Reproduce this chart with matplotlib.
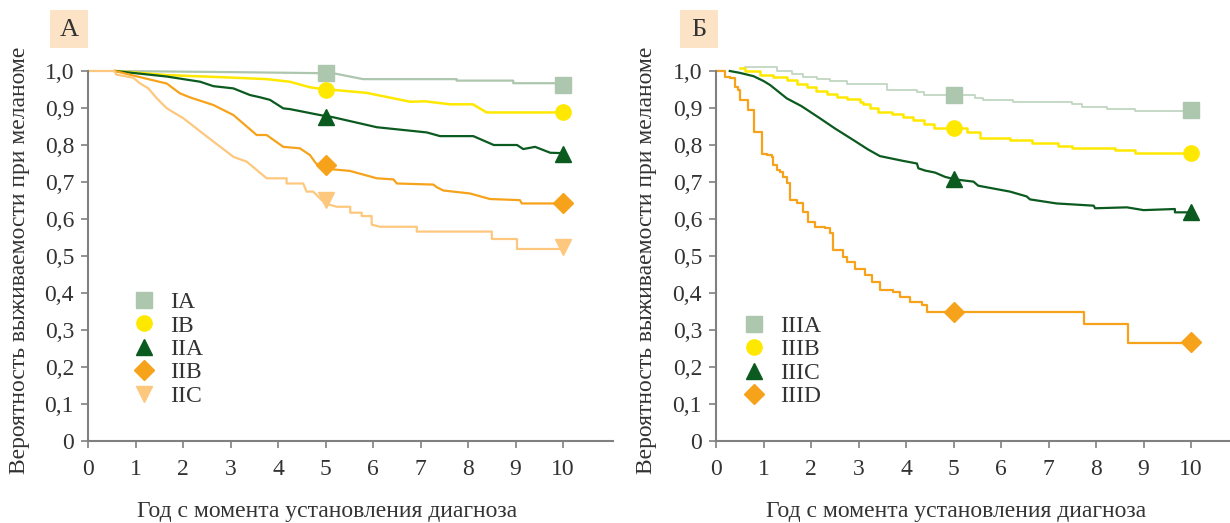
# Кривые выживаемости при меланоме по стадиям (панели А и Б)

import matplotlib.pyplot as plt
from matplotlib.patches import Rectangle

plt.rcParams['font.family'] = ['Liberation Serif', 'DejaVu Serif']

# Панель А: стадии I-II (точки ломаной: год, вероятность)
ia_t = [0.6, 3.0, 5.0, 5.2, 5.79, 7.76, 7.76, 8.95, 8.95, 10]
ia_s = [1.0, 0.997, 0.994, 0.993, 0.978, 0.978, 0.974, 0.974, 0.967, 0.967]
ib_t = [0.57, 1.66, 3.06, 3.76, 4.25, 4.67, 5.0, 5.16, 5.86, 6.78, 7.1, 7.62, 8.1, 8.39, 10]
ib_s = [1.0, 0.989, 0.982, 0.978, 0.971, 0.956, 0.95, 0.949, 0.941, 0.917, 0.918, 0.91, 0.91, 0.888, 0.888]
iia_t = [0.57, 1.66, 2.36, 2.64, 3.06, 3.41, 3.62, 3.83, 4.11, 4.25, 4.88, 5.16, 6.08, 7.13,
         7.41, 8.11, 8.54, 9.03, 9.16, 9.41, 9.73, 10]
iia_s = [1.0, 0.985, 0.971, 0.959, 0.953, 0.935, 0.929, 0.922, 0.899, 0.897, 0.881, 0.875, 0.848, 0.834,
         0.824, 0.824, 0.8, 0.8, 0.789, 0.795, 0.779, 0.778]
iib_t = [0.57, 0.88, 1.66, 1.93, 2.14, 2.64, 3.06, 3.55, 3.76, 4.11, 4.46, 4.67, 4.8, 5.16, 5.51, 6.08,
         6.43, 6.5, 7.27, 7.34, 7.48, 8.04, 8.46, 9.09, 9.13, 10]
iib_s = [1.0, 0.99, 0.966, 0.94, 0.929, 0.908, 0.881, 0.827, 0.827, 0.795, 0.791, 0.773, 0.75, 0.734, 0.73, 0.71,
         0.707, 0.696, 0.693, 0.686, 0.677, 0.669, 0.654, 0.651, 0.642, 0.642]
iic_t = [0, 0.55, 0.6, 0.95, 1.1, 1.27, 1.45, 1.66, 2.01, 2.5, 3.06, 3.34, 3.76, 4.18, 4.18, 4.53, 4.6,
         4.74, 4.99, 5.24, 5.52, 5.52, 5.76, 5.76, 5.97, 5.97, 6.15, 6.92, 6.92, 8.5, 8.5, 9.03, 9.03, 10]
iic_s = [1.0, 1.0, 0.99, 0.982, 0.966, 0.953, 0.926, 0.899, 0.872, 0.823, 0.768, 0.755, 0.71, 0.71, 0.696, 0.696,
         0.674, 0.674, 0.642, 0.633, 0.633, 0.617, 0.617, 0.608, 0.608, 0.585, 0.579, 0.579, 0.566, 0.566,
         0.546, 0.546, 0.519, 0.519]

# Панель Б: стадия III
iiia_t = [0.61, 1.28, 1.59, 1.84, 2.12, 2.4, 2.75, 3.59, 4.23, 4.37, 5.45, 5.63, 6.26, 7.49, 7.7, 8.23, 8.82, 10]
iiia_s = [1.012, 1.0, 0.991, 0.985, 0.978, 0.974, 0.966, 0.950, 0.944, 0.935, 0.928, 0.922, 0.917, 0.910,
          0.904, 0.897, 0.892, 0.892]
iiib_t = [0.5, 0.61, 0.93, 1.21, 1.49, 1.7, 1.91, 2.1, 2.33, 2.55, 2.75, 3.03, 3.1, 3.25, 3.42, 3.7, 3.94,
          4.15, 4.37, 4.58, 5.28, 5.56, 6.19, 6.65, 7.2, 7.49, 8.4, 8.82, 10]
iiib_s = [1.007, 1.001, 0.989, 0.983, 0.976, 0.966, 0.956, 0.947, 0.938, 0.93, 0.924, 0.917, 0.91, 0.9, 0.888,
          0.885, 0.875, 0.868, 0.856, 0.847, 0.836, 0.82, 0.8135, 0.805, 0.797, 0.791, 0.786, 0.779, 0.779]
iiic_t = [0.29, 0.5, 0.79, 1.0, 1.14, 1.49, 1.8, 2.19, 2.5, 2.89, 3.2, 3.45, 3.94, 4.23, 4.26, 4.4, 4.61,
          4.82, 5.03, 5.42, 5.52, 6.19, 6.54, 6.61, 7.17, 7.95, 7.98, 8.65, 9.0, 9.66, 9.66, 10]
iiic_s = [1.0, 0.995, 0.986, 0.973, 0.962, 0.926, 0.905, 0.872, 0.845, 0.8135, 0.788, 0.77, 0.757, 0.75, 0.737,
          0.731, 0.7255, 0.714, 0.707, 0.701, 0.69, 0.674, 0.661, 0.653, 0.642, 0.636, 0.629, 0.6315, 0.624,
          0.627, 0.618, 0.618]
iiid_t = [0, 0.19, 0.29, 0.40, 0.47, 0.51, 0.68, 0.79, 0.96, 1.07, 1.17, 1.21, 1.28, 1.35, 1.42, 1.49, 1.56,
          1.70, 1.84, 1.94, 2.08, 2.29, 2.40, 2.47, 2.68, 2.75, 2.93, 3.14, 3.28, 3.45, 3.73, 3.87, 4.08,
          4.33, 4.44, 7.75, 8.67, 10]
iiid_s = [1.0, 0.985, 0.98, 0.958, 0.949, 0.922, 0.895, 0.836, 0.777, 0.773, 0.768, 0.746, 0.732, 0.728,
          0.714, 0.696, 0.651, 0.642, 0.62, 0.593, 0.579, 0.575, 0.561, 0.516, 0.498, 0.485, 0.466, 0.449,
          0.431, 0.408, 0.4035, 0.39, 0.3765, 0.3676, 0.349, 0.315, 0.264, 0.264]

# Маркеры на 5 и 10 годах
mark_t = [5, 10]
marks_a = {'IA': [0.995, 0.963], 'IB': [0.949, 0.888], 'IIA': [0.877, 0.776],
           'IIB': [0.747, 0.642], 'IIC': [0.652, 0.524]}
marks_b = {'IIIA': [0.935, 0.895], 'IIIB': [0.845, 0.779], 'IIIC': [0.708, 0.62], 'IIID': [0.349, 0.267]}

x_ticks = list(range(11))
y_ticks = [0, 0.1, 0.2, 0.3, 0.4, 0.5, 0.6, 0.7, 0.8, 0.9, 1.0]
y_labels = ['0', '0,1', '0,2', '0,3', '0,4', '0,5', '0,6', '0,7', '0,8', '0,9', '1,0']

GREY_GREEN = '#adc6ae'
YELLOW = '#ffe800'
DARK_GREEN = '#0b5a1f'
ORANGE = '#f7a21b'
LIGHT_ORANGE = '#fdc87e'
AXIS = '#808080'
TEXT = '#333333'

fig = plt.figure(figsize=(12.3, 5.23), dpi=100)
ax_a = fig.add_axes([88 / 1230, 82 / 523, 525 / 1230, 377.4 / 523])
ax_b = fig.add_axes([716 / 1230, 82 / 523, 514 / 1230, 377.4 / 523])


def style(ax, xmax):
    ax.set_xlim(0, xmax)
    ax.set_ylim(0, 1.02)
    for side in ['top', 'right']:
        ax.spines[side].set_visible(False)
    for side in ['left', 'bottom']:
        ax.spines[side].set_color(AXIS)
        ax.spines[side].set_linewidth(1.5)
    ax.spines['left'].set_bounds(0, 1.0)
    ax.set_xticks(x_ticks)
    ax.set_yticks(y_ticks)
    ax.set_yticklabels(y_labels)
    ax.tick_params(direction='out', length=5, width=1.2, color=AXIS, labelcolor=TEXT,
                   labelsize=17, pad=5)
    ax.tick_params(axis='x', pad=8)
    ax.set_xlabel('Год с момента установления диагноза', fontsize=17, color=TEXT)
    ax.set_ylabel('Вероятность выживаемости при меланоме', fontsize=17, color=TEXT)


style(ax_a, 11.05)
style(ax_b, 10.82)
ax_a.xaxis.set_label_coords(0.455, -0.16)
ax_b.xaxis.set_label_coords(0.467, -0.16)
ax_a.yaxis.set_label_coords(-0.11, 0.48)
ax_b.yaxis.set_label_coords(-0.115, 0.48)

# Панель А
ax_a.plot(ia_t, ia_s, color=GREY_GREEN, lw=1.6)
ax_a.plot(ib_t, ib_s, color=YELLOW, lw=1.8)
ax_a.plot(iia_t, iia_s, color=DARK_GREEN, lw=1.6)
ax_a.plot(iib_t, iib_s, color=ORANGE, lw=1.6)
ax_a.plot(iic_t, iic_s, color=LIGHT_ORANGE, lw=1.6)

ax_a.plot(mark_t, marks_a['IA'], 's', color=GREY_GREEN, ms=11, ls='none', label='IA', clip_on=False)
ax_a.plot(mark_t, marks_a['IB'], 'o', color=YELLOW, ms=11, ls='none', label='IB', clip_on=False)
ax_a.plot(mark_t, marks_a['IIA'], '^', color=DARK_GREEN, ms=11, ls='none', label='IIA', clip_on=False)
ax_a.plot(mark_t, marks_a['IIB'], 'D', color=ORANGE, ms=10, ls='none', label='IIB', clip_on=False)
ax_a.plot(mark_t, marks_a['IIC'], 'v', color=LIGHT_ORANGE, ms=11, ls='none', label='IIC', clip_on=False)

# Панель Б
ax_b.step(iiia_t, iiia_s, where='post', color='#bcd3be', lw=1.2, clip_on=False)
ax_b.step(iiib_t, iiib_s, where='post', color=YELLOW, lw=1.8, clip_on=False)
ax_b.plot(iiic_t, iiic_s, color=DARK_GREEN, lw=1.6)
ax_b.step(iiid_t, iiid_s, where='post', color=ORANGE, lw=1.6, clip_on=False)

ax_b.plot(mark_t, marks_b['IIIA'], 's', color=GREY_GREEN, ms=11, ls='none', label='IIIA', clip_on=False)
ax_b.plot(mark_t, marks_b['IIIB'], 'o', color=YELLOW, ms=11, ls='none', label='IIIB', clip_on=False)
ax_b.plot(mark_t, marks_b['IIIC'], '^', color=DARK_GREEN, ms=11, ls='none', label='IIIC', clip_on=False)
ax_b.plot(mark_t, marks_b['IIID'], 'D', color=ORANGE, ms=10, ls='none', label='IIID', clip_on=False)

for ax, anchor in [(ax_a, (0.062, 0.427)), (ax_b, (0.028, 0.364))]:
    leg = ax.legend(loc='upper left', bbox_to_anchor=anchor, frameon=False, fontsize=17,
                    handlelength=1.0, handletextpad=0.6, labelspacing=0.08, borderpad=0)
    for t in leg.get_texts():
        t.set_color(TEXT)

# Метки панелей
for cx, letter in [(69, 'А'), (699, 'Б')]:
    fig.patches.append(Rectangle(((cx - 19) / 1230, 1 - 48 / 523), 38 / 1230, 38 / 523,
                                 transform=fig.transFigure, facecolor='#fde3c6', edgecolor='none'))
    fig.text(cx / 1230, 1 - 30 / 523, letter, ha='center', va='center', fontsize=19, color=TEXT)

fig.savefig('out.png', dpi=100)
